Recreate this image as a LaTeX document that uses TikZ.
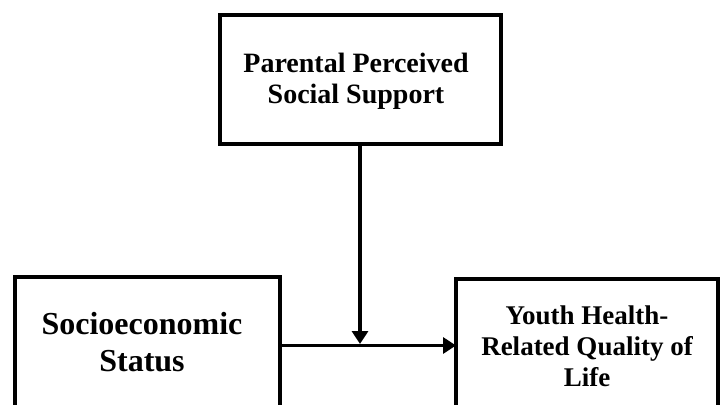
\documentclass[tikz,border=0pt]{standalone}
\usepackage{fontspec}
\setmainfont{Liberation Serif}
\usetikzlibrary{arrows.meta}
\begin{document}
\begin{tikzpicture}[x=1pt,y=-1pt,
  box/.style={draw=black,line width=3.6pt},
  lbl/.style={align=center,inner sep=0pt},
  conn/.style={line width=3.6pt,-{Triangle[length=13pt,width=16pt]}}]
\useasboundingbox (0,0) rectangle (725,404);
\draw[box] (220,15) rectangle (501,144);
\node[lbl,font=\bfseries\fontsize{28}{31}\selectfont] (ppss) at (356,81) {Parental Perceived\\Social Support};
\coordinate (ppssb) at (360,144);
\draw[box] (15,420) -- (15,277) -- (280,277) -- (280,420);
\node[lbl,font=\bfseries\fontsize{32}{37}\selectfont] (ses) at (142,342.5) {Socioeconomic\\Status};
\coordinate (sesr) at (280,345.5);
\draw[box] (456,420) -- (456,279) -- (718,279) -- (718,420);
\node[lbl,font=\bfseries\fontsize{27}{31}\selectfont] (yhq) at (587,346) {Youth Health-\\Related Quality of\\Life};
\coordinate (yhql) at (456,345.5);
\coordinate (mid) at (360,344);
\draw[conn] (sesr) -- (yhql);
\draw[conn] (ppssb) -- (mid);
\end{tikzpicture}
\end{document}
